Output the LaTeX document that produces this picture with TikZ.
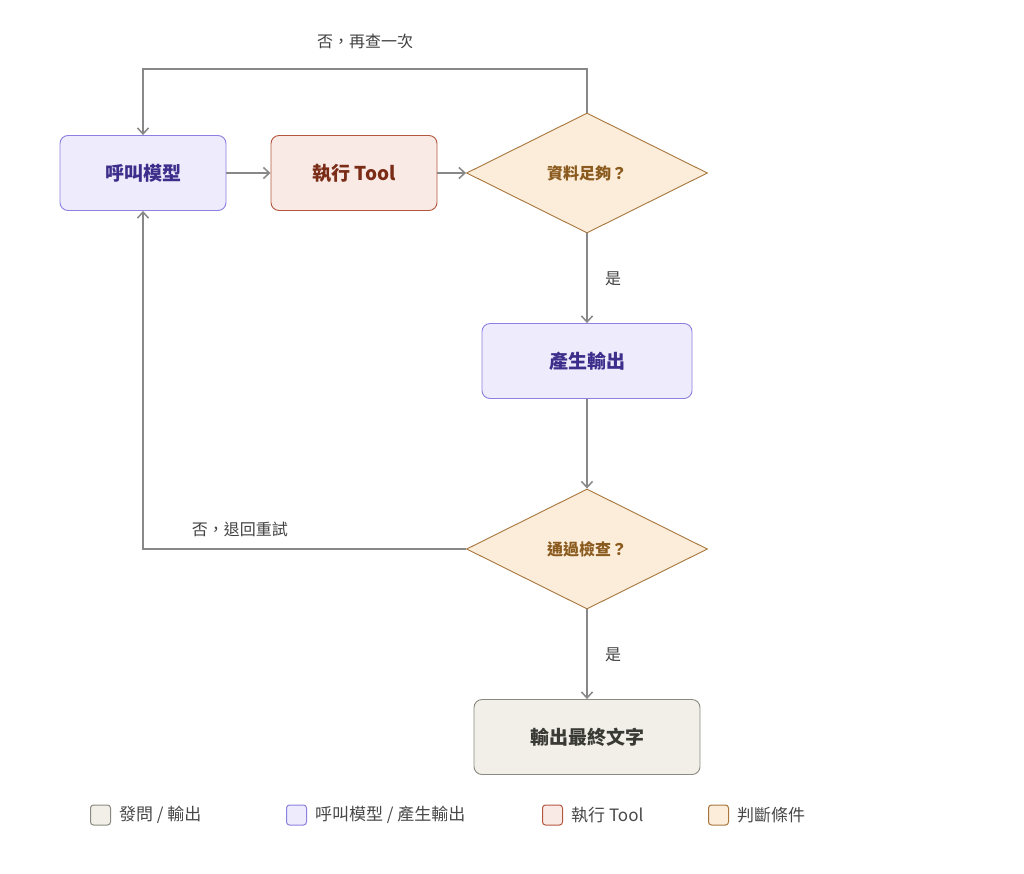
\documentclass[tikz,border=0pt]{standalone}
\usepackage{fontspec}
\setmainfont{Noto Sans CJK TC}
\usetikzlibrary{shapes.geometric, arrows.meta, positioning}
\definecolor{lineg}{HTML}{888888}
\definecolor{modelf}{HTML}{EDEBFC}\definecolor{modeld}{HTML}{8B80DF}\definecolor{modelt}{HTML}{3D2E8C}
\definecolor{toolf}{HTML}{F9EAE5}\definecolor{toold}{HTML}{B5573E}\definecolor{toolt}{HTML}{7A2C17}
\definecolor{condf}{HTML}{FBEDDA}\definecolor{condd}{HTML}{A8763C}\definecolor{condt}{HTML}{8A5A1E}
\definecolor{iof}{HTML}{F1EFE8}\definecolor{iod}{HTML}{8A8A80}\definecolor{iot}{HTML}{3A3A35}
\tikzset{
  box/.style={rectangle, rounded corners=8pt, minimum height=75pt, line width=0.9pt, font=\fontsize{19}{22}\selectfont\bfseries},
  model/.style={box, minimum width=166pt, fill=modelf, draw=modeld, text=modelt},
  tool/.style={box, minimum width=166pt, fill=toolf, draw=toold, text=toolt},
  io/.style={box, minimum width=226pt, fill=iof, draw=iod, text=iot},
  decision/.style={diamond, aspect=2, minimum width=241pt, minimum height=120pt, inner sep=0pt, line width=0.9pt, fill=condf, draw=condd, text=condt, font=\fontsize{16}{19}\selectfont\bfseries},
  arrow/.style={line width=1.8pt, draw=lineg, -{Straight Barb[length=6pt,width=11pt,line width=1.5pt]}},
  lab/.style={text=black!75, font=\fontsize{16}{19}\selectfont},
  key/.style={rectangle, rounded corners=3pt, minimum size=20pt, inner sep=0pt, line width=1pt},
  keytext/.style={right=8pt, anchor=west, text=black!72, font=\fontsize{17}{20}\selectfont, inner sep=0pt},
}
\begin{document}
\begin{tikzpicture}[x=1pt, y=-1pt]
	\useasboundingbox (0,0) rectangle (1024,873);
	
	\node (call) [model] at (143,173) {呼叫模型};
	\node (run) [tool] at (354,173) {執行 Tool};
	\node (enough) [decision] at (587,173) {資料足夠？};
	\node (gen) [model, minimum width=210pt] at (587,361) {產生輸出};
	\node (check) [decision] at (587,549) {通過檢查？};
	\node (final) [io] at (587,737) {輸出最終文字};
	
	\coordinate (top) at (587,69);
	
	\draw[arrow] (call) -- (run);
	\draw[arrow] (run) -- (enough);
	\draw[arrow] (enough.north) -- (top) -| (call.north) node[pos=0.25, above=16pt, lab] {否，再查一次};
	\draw[arrow] (enough) -- (gen) node[midway, right=14pt, lab] {是};
	\draw[arrow] (gen) -- (check);
	\draw[arrow] (check.west) -| (call.south) node[pos=0.35, above=8pt, lab] {否，退回重試};
	\draw[arrow] (check) -- (final) node[midway, right=14pt, lab] {是};
	
	% legend
	\node (k1) [key, fill=iof, draw=iod] at (100.5,815) {};
	\node (t1) [keytext] at (k1.east) {發問 / 輸出};
	\node (k2) [key, fill=modelf, draw=modeld] at (296.5,815) {};
	\node (t2) [keytext] at (k2.east) {呼叫模型 / 產生輸出};
	\node (k3) [key, fill=toolf, draw=toold] at (552.5,815) {};
	\node (t3) [keytext] at (k3.east) {執行 Tool};
	\node (k4) [key, fill=condf, draw=condd] at (718.5,815) {};
	\node (t4) [keytext] at (k4.east) {判斷條件};
\end{tikzpicture}
\end{document}
